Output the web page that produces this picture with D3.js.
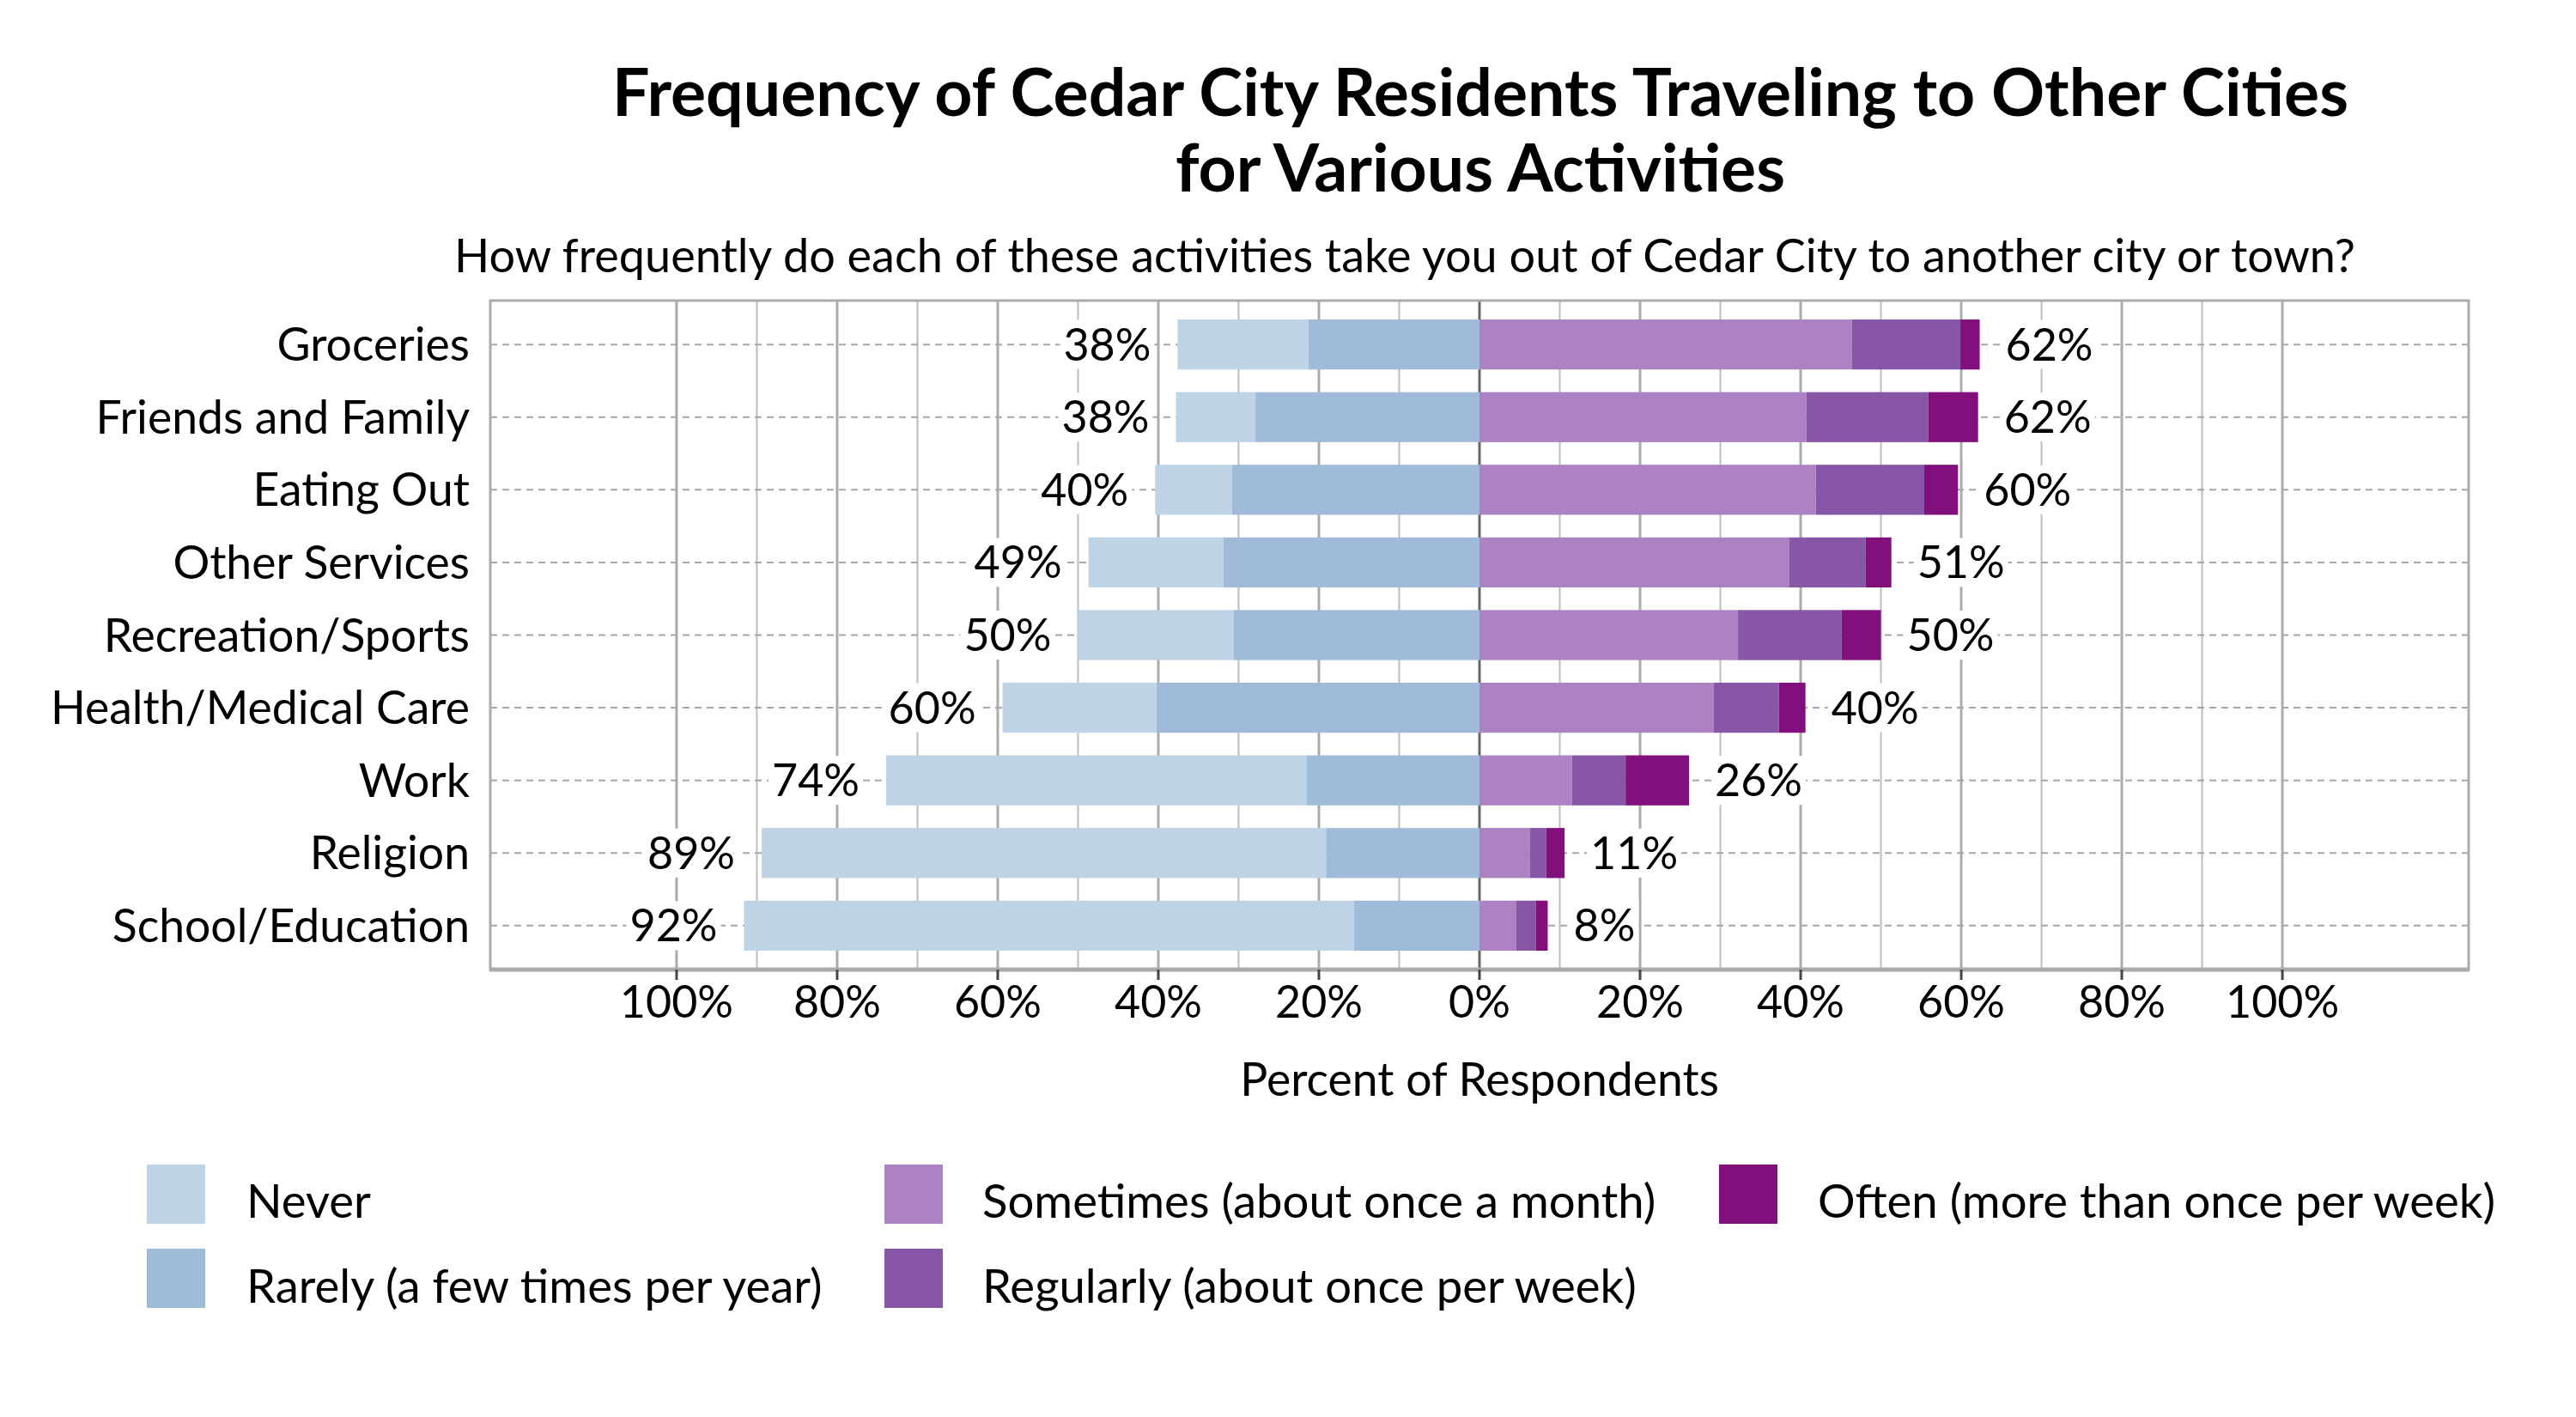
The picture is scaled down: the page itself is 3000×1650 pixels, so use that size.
<!DOCTYPE html>
<html>
<head>
<meta charset="utf-8">
<script src="https://cdn.jsdelivr.net/npm/d3@7"></script>
<style>
  html, body { margin: 0; padding: 0; background: #fff; }
  svg { display: block; }
  text { font-family: Lato, "Noto Sans", sans-serif; fill: #000; }
</style>
</head>
<body>
<svg id="chart" width="3000" height="1650"></svg>
<script>
// ---------------- data ----------------
const categories = ["Groceries", "Friends and Family", "Eating Out", "Other Services",
  "Recreation/Sports", "Health/Medical Care", "Work", "Religion", "School/Education"];
const neverVals     = [16.3,  9.9,  9.6, 16.8, 19.4, 19.2, 52.4, 70.3, 76.0];
const rarelyVals    = [21.3, 27.9, 30.8, 31.9, 30.6, 40.2, 21.5, 19.1, 15.6];
const sometimesVals = [46.4, 40.7, 41.9, 38.6, 32.2, 29.2, 11.5,  6.3,  4.6];
const regularlyVals = [13.5, 15.2, 13.5,  9.5, 12.9,  8.1,  6.7,  2.0,  2.4];
const oftenVals     = [ 2.4,  6.2,  4.2,  3.2,  4.9,  3.3,  7.9,  2.3,  1.5];
const leftLabels  = ["38%", "38%", "40%", "49%", "50%", "60%", "74%", "89%", "92%"];
const rightLabels = ["62%", "62%", "60%", "51%", "50%", "40%", "26%", "11%", "8%"];
const seriesNames = ["Never", "Rarely (a few times per year)", "Sometimes (about once a month)",
  "Regularly (about once per week)", "Often (more than once per week)"];
const seriesColors = ["#bfd3e7", "#9fbbd9", "#ac82c2", "#8856a7", "#810f7c"];
const tickValues = [-100, -80, -60, -40, -20, 0, 20, 40, 60, 80, 100];
const gridValues = d3.range(-100, 101, 10);
const titleLines = ["Frequency of Cedar City Residents Traveling to Other Cities", "for Various Activities"];
const subtitle = "How frequently do each of these activities take you out of Cedar City to another city or town?";
const xTitle = "Percent of Respondents";

// ---------------- layout ----------------
const svg = d3.select("#chart");
const plot = { left: 571, right: 2875, top: 350, bottom: 1129 };
const x = d3.scaleLinear().domain([-123.2, 123.2]).range([plot.left, plot.right]);
const y = d3.scaleBand().domain(categories).range([plot.top, plot.bottom])
  .paddingInner(0.311).paddingOuter(0.26);
const FS = 53.5;   // category labels / axis title
const FV = 52;     // value & tick labels
const FL = 54.5;   // legend

// title
svg.selectAll("text.title").data(titleLines).join("text")
  .attr("class", "title")
  .attr("x", 1724).attr("y", (d, i) => 135 + i * 88)
  .attr("text-anchor", "middle")
  .style("font-size", "77px").style("font-weight", "bold")
  .text(d => d);
svg.append("text").attr("x", 1636).attr("y", 317).attr("text-anchor", "middle")
  .style("font-size", "54px").text(subtitle);

// vertical gridlines
svg.append("g").selectAll("line").data(gridValues).join("line")
  .attr("x1", d => x(d)).attr("x2", d => x(d))
  .attr("y1", plot.top).attr("y2", plot.bottom)
  .attr("stroke", d => d === 0 ? "#666" : (d % 20 === 0 ? "#ababab" : "#bdbdbd"))
  .attr("stroke-width", d => d === 0 ? 3 : (d % 20 === 0 ? 3 : 2));

// horizontal dashed lines
svg.append("g").selectAll("line").data(categories).join("line")
  .attr("x1", plot.left).attr("x2", plot.right)
  .attr("y1", d => y(d) + y.bandwidth() / 2).attr("y2", d => y(d) + y.bandwidth() / 2)
  .attr("stroke", "#a6a6a6").attr("stroke-width", 2).attr("stroke-dasharray", "8,6");

// bars
const rows = categories.map((c, i) => ({
  cat: c,
  segs: [
    { s: 0, x0: -(neverVals[i] + rarelyVals[i]), x1: -rarelyVals[i] },
    { s: 1, x0: -rarelyVals[i], x1: 0 },
    { s: 2, x0: 0, x1: sometimesVals[i] },
    { s: 3, x0: sometimesVals[i], x1: sometimesVals[i] + regularlyVals[i] },
    { s: 4, x0: sometimesVals[i] + regularlyVals[i], x1: sometimesVals[i] + regularlyVals[i] + oftenVals[i] }
  ]
}));
const gBars = svg.append("g");
rows.forEach(r => {
  gBars.selectAll(null).data(r.segs).join("rect")
    .attr("x", d => x(d.x0)).attr("width", d => x(d.x1) - x(d.x0))
    .attr("y", y(r.cat)).attr("height", y.bandwidth())
    .attr("fill", d => seriesColors[d.s]);
});

// frame
svg.append("rect").attr("x", plot.left).attr("y", plot.top)
  .attr("width", plot.right - plot.left).attr("height", plot.bottom - plot.top)
  .attr("fill", "none").attr("stroke", "#ababab").attr("stroke-width", 3);
svg.append("line").attr("x1", plot.left - 1).attr("x2", plot.right + 1)
  .attr("y1", plot.bottom).attr("y2", plot.bottom)
  .attr("stroke", "#ababab").attr("stroke-width", 5);

// value labels with white background
function valueLabel(xPos, yPos, txt, anchor) {
  const g = svg.append("g");
  const t = g.append("text").attr("x", xPos).attr("y", yPos + 18.5)
    .attr("text-anchor", anchor).style("font-size", FV + "px").text(txt);
  const bb = t.node().getBBox();
  g.insert("rect", "text").attr("x", bb.x - 4).attr("y", yPos - 28.5)
    .attr("width", bb.width + 8).attr("height", 57).attr("fill", "#fff");
}
categories.forEach((c, i) => {
  const cy = y(c) + y.bandwidth() / 2;
  valueLabel(x(-(neverVals[i] + rarelyVals[i])) - 31, cy, leftLabels[i], "end");
  valueLabel(x(sometimesVals[i] + regularlyVals[i] + oftenVals[i]) + 30, cy, rightLabels[i], "start");
});

// category labels
svg.append("g").selectAll("text").data(categories).join("text")
  .attr("x", 547).attr("y", d => y(d) + y.bandwidth() / 2 + 19)
  .attr("text-anchor", "end").style("font-size", FS + "px").text(d => d);

// x axis ticks
const gx = svg.append("g");
gx.selectAll("line").data(tickValues).join("line")
  .attr("x1", d => x(d)).attr("x2", d => x(d))
  .attr("y1", plot.bottom).attr("y2", plot.bottom + 12)
  .attr("stroke", "#444").attr("stroke-width", 3);
gx.selectAll("text").data(tickValues).join("text")
  .attr("x", d => x(d)).attr("y", 1185).attr("text-anchor", "middle")
  .style("font-size", FV + "px").text(d => Math.abs(d) + "%");
svg.append("text").attr("x", x(0)).attr("y", 1276).attr("text-anchor", "middle")
  .style("font-size", FS + "px").text(xTitle);

// legend
const legendPos = [
  { sx: 171, sy: 1356, tx: 287, ty: 1418 },
  { sx: 171, sy: 1454, tx: 287, ty: 1517 },
  { sx: 1030, sy: 1356, tx: 1144, ty: 1418 },
  { sx: 1030, sy: 1454, tx: 1144, ty: 1517 },
  { sx: 2002, sy: 1356, tx: 2117, ty: 1418 }
];
const gl = svg.append("g");
seriesNames.forEach((n, i) => {
  const p = legendPos[i];
  gl.append("rect").attr("x", p.sx).attr("y", p.sy).attr("width", 68).attr("height", 69)
    .attr("fill", seriesColors[i]);
  gl.append("text").attr("x", p.tx).attr("y", p.ty).style("font-size", FL + "px").text(n);
});
</script>
</body>
</html>
